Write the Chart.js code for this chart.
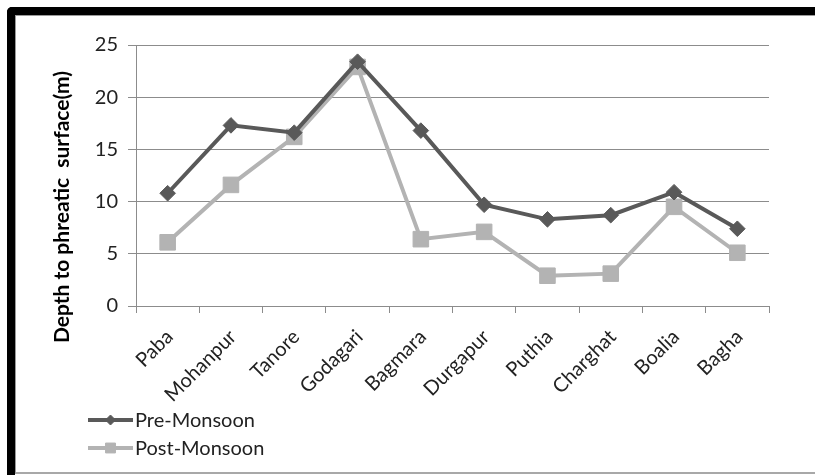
<!DOCTYPE html>
<html>
<head>
<meta charset="utf-8">
<script src="https://cdn.jsdelivr.net/npm/chart.js@4.4.1/dist/chart.umd.min.js"></script>
<style>
  html, body { margin: 0; padding: 0; background: #fff; }
  #wrap { position: relative; width: 815px; height: 475px; overflow: hidden; }
  #frame {
    position: absolute; left: 7px; top: 7px; width: 820px; height: 480px;
    border-top: 8px solid #000; border-left: 8px solid #000;
    border-top-left-radius: 5px; box-sizing: border-box;
  }
  #inner {
    position: absolute; left: 15px; top: 15px; width: 800px; height: 459px;
    border-top: 1px solid #9a9a9a; border-left: 1px solid #9a9a9a;
    border-bottom: 2px solid #a8a8a8; box-sizing: border-box;
  }
  canvas { position: absolute; left: 0; top: 0; }
</style>
</head>
<body>
<div id="wrap">
  <div id="frame"></div>
  <div id="inner"></div>
  <canvas id="c" width="815" height="475"></canvas>
</div>
<script>
// Upazilas of Rajshahi district
const categories = ['Paba', 'Mohanpur', 'Tanore', 'Godagari', 'Bagmara',
  'Durgapur', 'Puthia', 'Charghat', 'Boalia', 'Bagha'];
// Depth to phreatic surface (m)
const preMonsoon = [10.8, 17.3, 16.6, 23.4, 16.8, 9.7, 8.3, 8.7, 10.9, 7.4];
const postMonsoon = [6.1, 11.6, 16.2, 22.9, 6.4, 7.1, 2.9, 3.1, 9.5, 5.1];
const yTicks = [0, 5, 10, 15, 20, 25];
const seriesNames = ['Pre-Monsoon', 'Post-Monsoon'];
const yTitle = 'Depth to phreatic  surface(m)';

const FONT = 'Lato, "Liberation Sans", sans-serif';
const DARK = '#595959';
const LIGHT = '#b3b3b3';
const GRID = '#8c8c8c';
const TEXT = '#222222';

// Rotated y-axis title
const yTitlePlugin = {
  id: 'yTitle',
  afterDraw(chart) {
    const ctx = chart.ctx;
    ctx.save();
    ctx.translate(62, 207);
    ctx.rotate(-Math.PI / 2);
    ctx.font = 'bold 21px ' + FONT;
    ctx.fillStyle = '#000';
    ctx.textAlign = 'center';
    ctx.textBaseline = 'middle';
    ctx.fillText(yTitle, 0, 0);
    ctx.restore();
  }
};

// Stacked legend below the category labels
const stackedLegend = {
  id: 'stackedLegend',
  afterDraw(chart) {
    const ctx = chart.ctx;
    const rows = [420, 448];
    chart.data.datasets.forEach((ds, i) => {
      const y = rows[i];
      ctx.save();
      ctx.strokeStyle = ds.borderColor;
      ctx.lineWidth = 4;
      ctx.beginPath();
      ctx.moveTo(88, y);
      ctx.lineTo(133, y);
      ctx.stroke();
      ctx.fillStyle = ds.pointBackgroundColor;
      ctx.strokeStyle = ds.pointBackgroundColor;
      ctx.lineWidth = 1;
      Chart.helpers.drawPoint(ctx, {
        pointStyle: ds.pointStyle,
        radius: i === 0 ? 5 : 7,
        borderWidth: 1,
        rotation: 0
      }, 110.5, y);
      ctx.font = '20px ' + FONT;
      ctx.fillStyle = TEXT;
      ctx.textAlign = 'left';
      ctx.textBaseline = 'middle';
      ctx.fillText(ds.label, 135, y + 1);
      ctx.restore();
    });
  }
};

new Chart(document.getElementById('c'), {
  type: 'line',
  data: {
    labels: categories,
    datasets: [
      {
        label: seriesNames[0],
        data: preMonsoon,
        borderColor: DARK,
        backgroundColor: DARK,
        pointBackgroundColor: DARK,
        pointBorderColor: DARK,
        borderWidth: 4,
        pointStyle: 'rectRot',
        pointRadius: 7.8,
        pointBorderWidth: 1,
        tension: 0
      },
      {
        label: seriesNames[1],
        data: postMonsoon,
        borderColor: LIGHT,
        backgroundColor: LIGHT,
        pointBackgroundColor: LIGHT,
        pointBorderColor: LIGHT,
        borderWidth: 4,
        pointStyle: 'rect',
        pointRadius: 11,
        pointBorderWidth: 1,
        tension: 0
      }
    ]
  },
  options: {
    responsive: false,
    animation: false,
    events: [],
    layout: { padding: { left: 20, right: 46, top: 45, bottom: 0 } },
    plugins: {
      legend: { display: false },
      tooltip: { enabled: false }
    },
    scales: {
      x: {
        offset: true,
        afterFit(scale) { scale.height = 169; },
        grid: {
          drawOnChartArea: false,
          drawTicks: true,
          tickLength: 7,
          color: GRID,
          offset: true
        },
        border: { display: true, color: GRID, width: 1 },
        ticks: {
          maxRotation: 45,
          minRotation: 45,
          autoSkip: false,
          labelOffset: 2,
          padding: 12,
          color: TEXT,
          font: { family: FONT, size: 20 }
        }
      },
      y: {
        min: 0,
        max: 25,
        afterFit(scale) { scale.width = 116; },
        afterBuildTicks(scale) { scale.ticks = yTicks.map(v => ({ value: v })); },
        grid: {
          color: GRID,
          drawTicks: true,
          tickLength: 8
        },
        border: { display: true, color: GRID, width: 1 },
        ticks: {
          padding: 10,
          color: TEXT,
          font: { family: FONT, size: 20 }
        }
      }
    }
  },
  plugins: [yTitlePlugin, stackedLegend]
});
</script>
</body>
</html>
